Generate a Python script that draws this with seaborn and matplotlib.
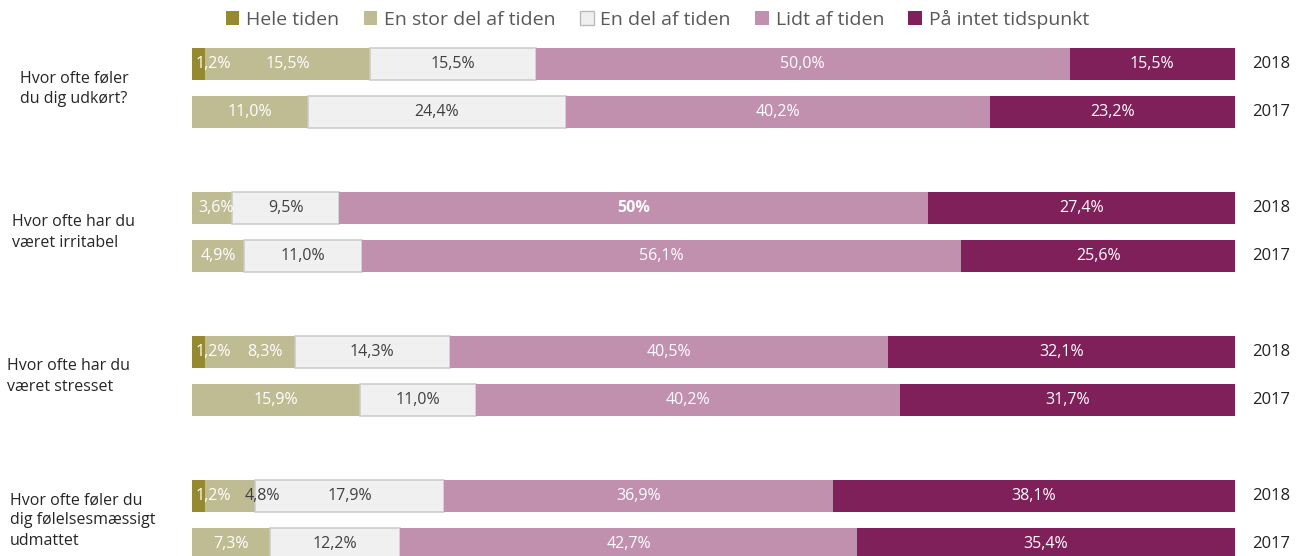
import numpy as np
import pandas as pd
import matplotlib
matplotlib.use("Agg")
import matplotlib.pyplot as plt
from matplotlib.patches import Patch
import seaborn as sns

# ---------------- data ----------------
questions = [
    "Hvor ofte føler\ndu dig udkørt?",
    "Hvor ofte har du\nværet irritabel",
    "Hvor ofte har du\nværet stresset",
    "Hvor ofte føler du\ndig følelsesmæssigt\nudmattet",
]
years = ["2018", "2017"]
categories = ["Hele tiden", "En stor del af tiden", "En del af tiden",
              "Lidt af tiden", "På intet tidspunkt"]

# rows: q1-2018, q1-2017, q2-2018, q2-2017, q3-2018, q3-2017, q4-2018, q4-2017
hele = [1.2, 0.0, 0.0, 0.0, 1.2, 0.0, 1.2, 0.0]
stor = [15.5, 11.0, 3.6, 4.9, 8.3, 15.9, 4.8, 7.3]
en_del = [15.5, 24.4, 9.5, 11.0, 14.3, 11.0, 17.9, 12.2]
lidt = [50.0, 40.2, 52.6, 56.1, 40.5, 40.2, 36.9, 42.7]
intet = [15.5, 23.2, 27.4, 25.6, 32.1, 31.7, 38.1, 35.4]
label_override = {(2, 3): "50%"}

# ---------------- style ----------------
sns.set_theme(style="white")
plt.rcParams["font.family"] = ["Open Sans", "DejaVu Sans"]

colors = ["#958A30", "#BFBB93", "#F0F0F0", "#C190AF", "#80205A"]
edgecols = ["none", "none", "#CACACA", "none", "none"]
lws = [0, 0, 1.1, 0, 0]
txtcols = ["#FFFFFF", "#FFFFFF", "#404040", "#FFFFFF", "#FFFFFF"]

W, H = 1315, 556
fig = plt.figure(figsize=(W / 100, H / 100), dpi=100)
x0, x1 = 192, 1235
ax = fig.add_axes([x0 / W, 0, (x1 - x0) / W, 1])

ypos = np.array([0, 1, 3, 4, 6, 7, 9, 10])
vals = np.array([hele, stor, en_del, lidt, intet])  # (5, 8)
totals = vals.sum(axis=0)
norm = vals / totals * 100
lefts = np.vstack([np.zeros(8), np.cumsum(norm, axis=0)[:-1]])

for k in range(5):
    df = pd.DataFrame({"y": ypos, "x": norm[k]})
    sns.barplot(data=df, x="x", y="y", orient="y", native_scale=True,
                width=32 / 48, color=colors[k], left=lefts[k],
                errorbar=None, ax=ax, edgecolor=edgecols[k], linewidth=lws[k],
                saturation=1)

px = 100 / (x1 - x0)  # data units per pixel
# label offsets (pixels) for crowded small segments
offsets = {(2, 1): 4, (4, 1): 15, (6, 1): 32}
dark_override = {(6, 1)}

for i in range(8):
    for k in range(5):
        v = vals[k, i]
        if v <= 0:
            continue
        txt = label_override.get((i, k), f"{v:.1f}".replace(".", ",") + "%")
        weight = "bold" if (i, k) in label_override else "normal"
        col = txtcols[k]
        if (i, k) in dark_override:
            col = "#404040"
        if k == 0:
            ax.text(lefts[k, i] + 4 * px, ypos[i], txt, ha="left", va="center",
                    fontsize=11.5, color=col, fontweight=weight)
        else:
            cx = lefts[k, i] + norm[k, i] / 2 + offsets.get((i, k), 0) * px
            ax.text(cx, ypos[i], txt, ha="center", va="center",
                    fontsize=11.5, color=col, fontweight=weight)
    ax.text(100 + (1252 - x1) * px, ypos[i], years[i % 2], ha="left",
            va="center", fontsize=12, color="#222222", clip_on=False)

ax.set_xlim(0, 100)
ax.set_ylim((H - 64) / 48, -64 / 48)
ax.axis("off")

# question labels
qx = [20, 12, 7, 10]
for g, q in enumerate(questions):
    cy = 64 + 48 * (ypos[2 * g] + ypos[2 * g + 1]) / 2 + 0.5
    fig.text(qx[g] / W, 1 - cy / H, q, ha="left", va="center",
             fontsize=11.5, color="#262626", linespacing=1.35)

handles = [Patch(facecolor=colors[k],
                 edgecolor=("#BBBBBB" if k == 2 else colors[k]),
                 linewidth=(1.0 if k == 2 else 0)) for k in range(5)]
fig.legend(handles, categories, loc="upper center", bbox_to_anchor=(0.5, 1.0),
           ncol=5, frameon=False, fontsize=14, labelcolor="#595959",
           handlelength=0.7, handleheight=0.7, handletextpad=0.35,
           columnspacing=1.25, borderaxespad=0.1)

fig.savefig("out.png", dpi=100)
